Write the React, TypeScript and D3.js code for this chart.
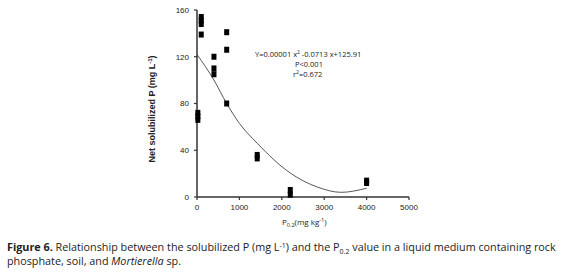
import React from "react";
import * as d3 from "d3";

// Observed data (P0.2 in mg/kg, net solubilized P in mg/L)
const pointX = [20, 20, 20, 100, 100, 100, 100, 400, 400, 400, 700, 700, 700, 1420, 1420, 2200, 2200, 4000, 4000];
const pointY = [72, 69, 66, 154, 151, 148, 139, 120, 110, 105, 141, 126, 80, 36, 33, 6, 2, 14, 12];

// Fitted curve
const fitX = [0, 400, 700, 1000, 1420, 2200, 2840, 3400, 4000];
const fitY = [122, 100, 80, 63, 46, 20.5, 8.5, 4, 7.5];

const xTicks = [0, 1000, 2000, 3000, 4000, 5000];
const yTicks = [0, 40, 80, 120, 160];

export default function App() {
  const W = 580, H = 272;
  const x = d3.scaleLinear().domain([0, 5000]).range([197, 409]);
  const y = d3.scaleLinear().domain([0, 160]).range([197, 10]);
  const line = d3
    .line<number>()
    .x((d, i) => x(fitX[i]))
    .y((d) => y(d))
    .curve(d3.curveMonotoneX);
  const axisColor = "#333";
  const tickFont = "Arial, 'Liberation Sans', sans-serif";
  const capFont = "'Open Sans', 'Noto Sans', sans-serif";
  return (
    <svg
      width={W}
      height={H}
      style={{ position: "absolute", left: 0, top: 0, background: "#fff" }}
    >
      {/* axes */}
      <line x1={x(0)} x2={x(0)} y1={y(0)} y2={y(160)} stroke={axisColor} strokeWidth={1.5} />
      <line x1={x(0)} x2={x(5000)} y1={y(0)} y2={y(0)} stroke={axisColor} strokeWidth={1.5} />
      {yTicks.map((t) => (
        <g key={"y" + t}>
          <line x1={x(0) - 3} x2={x(0)} y1={y(t)} y2={y(t)} stroke={axisColor} strokeWidth={1.2} />
          <text x={x(0) - 8} y={y(t)} dy="0.35em" textAnchor="end" fontSize={8} fontFamily={tickFont} fill="#222">
            {t}
          </text>
        </g>
      ))}
      {xTicks.map((t) => (
        <g key={"x" + t}>
          <line x1={x(t)} x2={x(t)} y1={y(0)} y2={y(0) + 3} stroke={axisColor} strokeWidth={1.2} />
          <text x={x(t)} y={207} dy="0.35em" textAnchor="middle" fontSize={8} fontFamily={tickFont} fill="#222">
            {t}
          </text>
        </g>
      ))}
      {/* fitted curve */}
      <path d={line(fitY) || ""} fill="none" stroke="#444" strokeWidth={0.9} />
      {/* points */}
      {pointX.map((px, i) => (
        <rect key={i} x={x(px) - 2.5} y={y(pointY[i]) - 3} width={5} height={6} fill="#000" />
      ))}
      {/* equation */}
      <text x={255} y={57} fontSize={7.5} fontFamily={capFont} fill="#222">
        Y=0.00001 x<tspan dy={-3} fontSize={5}>2</tspan>
        <tspan dy={3}> -0.0713 x+125.91</tspan>
      </text>
      <text x={295} y={67} fontSize={7.5} fontFamily={capFont} fill="#222">
        P&lt;0.001
      </text>
      <text x={293} y={77} fontSize={7.5} fontFamily={capFont} fill="#222">
        r<tspan dy={-3} fontSize={5}>2</tspan>
        <tspan dy={3}>=0.672</tspan>
      </text>
      {/* y label */}
      <text
        transform="translate(155,109) rotate(-90)"
        textAnchor="middle"
        fontSize={9}
        fontWeight="bold"
        fontFamily={tickFont}
        fill="#222"
      >
        Net solubilized P (mg L<tspan dy={-3} fontSize={6}>-1</tspan>
        <tspan dy={3}>)</tspan>
      </text>
      {/* x label */}
      <text x={282} y={225} fontSize={8} fontFamily={capFont} fill="#222">
        P<tspan dy={2} fontSize={5.5}>0.2</tspan>
        <tspan dy={-2}>(mg kg</tspan>
        <tspan dy={-3} fontSize={5.5}>-1</tspan>
        <tspan dy={3}>)</tspan>
      </text>
      {/* caption */}
      <text x={7} y={251} fontSize={10.8} fontFamily={capFont} fill="#222">
        <tspan fontWeight="bold">Figure 6.</tspan> Relationship between the solubilized P (mg L
        <tspan dy={-3.5} fontSize={7}>-1</tspan>
        <tspan dy={3.5}>) and the P</tspan>
        <tspan dy={2.5} fontSize={7}>0.2</tspan>
        <tspan dy={-2.5}> value in a liquid medium containing rock</tspan>
      </text>
      <text x={7} y={265} fontSize={10.8} fontFamily={capFont} fill="#222">
        phosphate, soil, and <tspan fontStyle="italic">Mortierella</tspan> sp.
      </text>
    </svg>
  );
}
